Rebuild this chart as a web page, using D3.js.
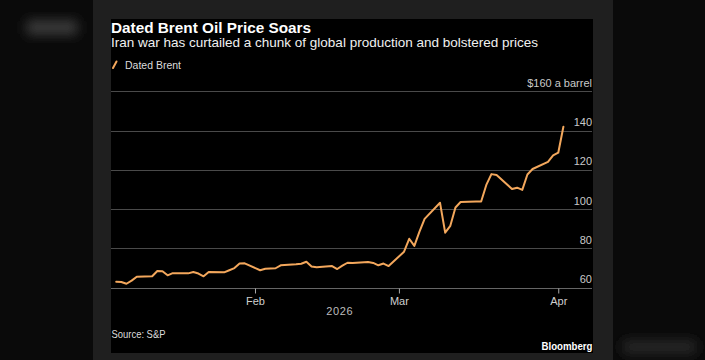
<!DOCTYPE html>
<html>
<head>
<meta charset="utf-8">
<script src="https://cdn.jsdelivr.net/npm/d3@7"></script>
<style>
html,body{margin:0;padding:0;background:#0a0a0a;}
svg{display:block;}
text{font-family:"Liberation Sans","Noto Sans",sans-serif;}
</style>
</head>
<body>
<svg id="chart" width="705" height="360"></svg>
<script>
// ---- data ----
const dates = [
  "2026-01-05","2026-01-06","2026-01-07","2026-01-08","2026-01-09",
  "2026-01-12","2026-01-13","2026-01-14","2026-01-15","2026-01-16",
  "2026-01-19","2026-01-20","2026-01-21","2026-01-22","2026-01-23",
  "2026-01-26","2026-01-27","2026-01-28","2026-01-29","2026-01-30",
  "2026-02-02","2026-02-03","2026-02-04","2026-02-05","2026-02-06",
  "2026-02-09","2026-02-10","2026-02-11","2026-02-12","2026-02-13",
  "2026-02-16","2026-02-17","2026-02-18","2026-02-19","2026-02-20",
  "2026-02-23","2026-02-24","2026-02-25","2026-02-26","2026-02-27",
  "2026-03-02","2026-03-03","2026-03-04","2026-03-05","2026-03-06",
  "2026-03-09","2026-03-10","2026-03-11","2026-03-12","2026-03-13",
  "2026-03-16","2026-03-17","2026-03-18","2026-03-19","2026-03-20",
  "2026-03-23","2026-03-24","2026-03-25","2026-03-26","2026-03-27",
  "2026-03-30","2026-03-31","2026-04-01","2026-04-02"
];
const datedBrent = [
  63.0, 62.9, 62.0, 63.6, 65.6,
  65.8, 68.5, 68.4, 66.3, 67.4,
  67.3, 68.0, 67.2, 65.8, 68.0,
  67.8, 68.9, 70.0, 72.3, 72.4,
  68.9, 69.6, 69.8, 69.9, 71.4,
  71.9, 72.2, 73.2, 70.8, 70.4,
  71.0, 69.5, 71.2, 72.7, 72.6,
  73.1, 72.6, 71.4, 72.3, 71.0,
  78.3, 84.9, 81.3, 88.5, 95.0,
  103.2, 88.0, 91.5, 100.8, 103.6,
  103.9, 103.9, 112.3, 117.8, 117.4,
  110.2, 110.9, 109.8, 117.6, 120.4,
  124.0, 127.3, 128.7, 141.9
];
const yTicks = [60, 80, 100, 120, 140, 160];
const yTickLabels = ["60", "80", "100", "120", "140", "$160 a barrel"];
const xTicks = ["2026-02-01", "2026-03-01", "2026-04-01"];
const xTickLabels = ["Feb", "Mar", "Apr"];
const yearLabel = "2026";
const seriesName = "Dated Brent";
const title = "Dated Brent Oil Price Soars";
const subtitle = "Iran war has curtailed a chunk of global production and bolstered prices";
const source = "Source: S&P";
const brand = "Bloomberg";

// ---- setup ----
const parse = d3.utcParse("%Y-%m-%d");
const pts = dates.map((d, i) => ({ date: parse(d), value: datedBrent[i] }));
const orange = "#f3a75c";

const svg = d3.select("#chart");
const defs = svg.append("defs");
defs.append("filter").attr("id", "blur").attr("x", "-50%").attr("y", "-50%").attr("width", "200%").attr("height", "200%")
  .append("feGaussianBlur").attr("stdDeviation", 6);

// backgrounds
svg.append("rect").attr("width", 705).attr("height", 360).attr("fill", "#0a0a0a");
svg.append("rect").attr("x", 26).attr("y", 20).attr("width", 52).attr("height", 15).attr("rx", 5)
  .attr("fill", "#3a3a3a").attr("filter", "url(#blur)");
svg.append("rect").attr("x", 622).attr("y", 340).attr("width", 75).attr("height", 14).attr("rx", 5)
  .attr("fill", "#262626").attr("filter", "url(#blur)");
svg.append("rect").attr("x", 93).attr("y", 0).attr("width", 520).attr("height", 360).attr("fill", "#1f1f1f");
svg.append("rect").attr("x", 111).attr("y", 19).attr("width", 482).attr("height", 334).attr("fill", "#000");

// scales
const x = d3.scaleUtc().domain([parse("2026-01-05"), parse("2026-04-02")]).range([116.2, 563.4]);
const y = d3.scaleLinear().domain([60, 160]).range([287.7, 91.2]);

// gridlines
const grid = svg.append("g");
yTicks.forEach((t, i) => {
  grid.append("line")
    .attr("x1", 111).attr("x2", 592)
    .attr("y1", Math.round(y(t)) + 0.5).attr("y2", Math.round(y(t)) + 0.5)
    .attr("stroke", t === 60 ? "#666" : "#4a4a4a").attr("stroke-width", 1);
  grid.append("text")
    .attr("x", 592).attr("y", y(t) - 4.5)
    .attr("text-anchor", "end")
    .attr("font-size", 11).attr("fill", "#c9c9c9")
    .text(yTickLabels[i]);
});

// x axis
const xAxis = svg.append("g")
  .attr("transform", `translate(0,${Math.round(y(60)) + 0.5})`)
  .call(d3.axisBottom(x)
    .tickValues(xTicks.map(parse))
    .tickFormat((d, i) => xTickLabels[i])
    .tickSize(5).tickPadding(4));
xAxis.select(".domain").remove();
xAxis.selectAll(".tick line").attr("stroke", "#aaa");
xAxis.selectAll(".tick text").attr("fill", "#cfcfcf").attr("font-size", 11)
  .attr("font-family", "Liberation Sans, sans-serif");

svg.append("text")
  .attr("x", (x.range()[0] + x.range()[1]) / 2).attr("y", 315)
  .attr("text-anchor", "middle").attr("font-size", 11).attr("fill", "#bdbdbd")
  .attr("letter-spacing", 0.6)
  .text(yearLabel);

// line
const line = d3.line().x(d => x(d.date)).y(d => y(d.value)).curve(d3.curveLinear);
svg.append("path").datum(pts)
  .attr("d", line)
  .attr("fill", "none")
  .attr("stroke", orange)
  .attr("stroke-width", 2)
  .attr("stroke-linejoin", "round")
  .attr("stroke-linecap", "round");

// titles
svg.append("text").attr("x", 111).attr("y", 32.5)
  .attr("font-size", 14).attr("font-weight", "bold").attr("fill", "#fff")
  .attr("textLength", 200).attr("lengthAdjust", "spacingAndGlyphs")
  .text(title);
svg.append("text").attr("x", 111).attr("y", 47)
  .attr("font-size", 13).attr("fill", "#f0f0f0")
  .attr("textLength", 427).attr("lengthAdjust", "spacingAndGlyphs")
  .text(subtitle);

// legend
svg.append("line")
  .attr("x1", 113).attr("y1", 68).attr("x2", 116.5).attr("y2", 61.5)
  .attr("stroke", orange).attr("stroke-width", 2).attr("stroke-linecap", "round");
svg.append("text").attr("x", 125).attr("y", 69)
  .attr("font-size", 11).attr("fill", "#dcdcdc")
  .attr("textLength", 56).attr("lengthAdjust", "spacingAndGlyphs")
  .text(seriesName);

// footer
svg.append("text").attr("x", 111.5).attr("y", 338)
  .attr("font-size", 11).attr("fill", "#dcdcdc")
  .attr("textLength", 54).attr("lengthAdjust", "spacingAndGlyphs")
  .text(source);
svg.append("text").attr("x", 541.5).attr("y", 350)
  .attr("font-size", 11).attr("font-weight", "bold").attr("fill", "#fff")
  .attr("textLength", 51).attr("lengthAdjust", "spacingAndGlyphs")
  .text(brand);
</script>
</body>
</html>
